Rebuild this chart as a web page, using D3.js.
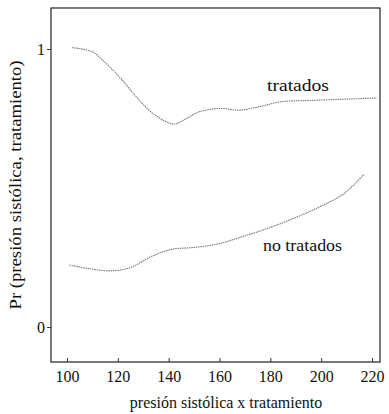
<!DOCTYPE html>
<html>
<head>
<meta charset="utf-8">
<script src="https://cdn.jsdelivr.net/npm/d3@7"></script>
<style>
  html, body { margin: 0; padding: 0; background: #fff; }
  svg { display: block; }
  svg text { font-family: "Times New Roman", "Liberation Serif", "DejaVu Serif", serif; fill: #111; }
</style>
</head>
<body>
<svg id="chart" width="389" height="414"></svg>
<script>
// Presión sistólica (eje x) y probabilidad estimada para cada grupo
const pressure = [102, 110, 114, 121, 125.5, 130, 135, 142, 147, 152, 160, 168, 176, 184, 196, 211, 222];
const treated  = [1.005, 0.99, 0.96, 0.896, 0.847, 0.80, 0.76, 0.73, 0.75, 0.774, 0.786, 0.78, 0.793, 0.81, 0.815, 0.82, 0.824];

const pressureUntreated = [101, 108, 117, 125, 133, 141, 150, 159, 168, 179, 189, 200, 209, 217];
const untreated         = [0.223, 0.211, 0.202, 0.214, 0.253, 0.279, 0.286, 0.298, 0.322, 0.355, 0.39, 0.435, 0.48, 0.55];

const xTicks = [100, 120, 140, 160, 180, 200, 220];
const yTicks = [0, 1];

const svg = d3.select("#chart");
const frame = { left: 51, right: 380, top: 8, bottom: 362 };
const serif = "'Times New Roman', 'Liberation Serif', serif";

const x = d3.scaleLinear().domain([100, 220]).range([67, 372]);
const y = d3.scaleLinear().domain([0, 1]).range([327, 49]);

// Marco del gráfico
svg.append("rect")
  .attr("x", frame.left).attr("y", frame.top)
  .attr("width", frame.right - frame.left).attr("height", frame.bottom - frame.top)
  .attr("fill", "none").attr("stroke", "#222").attr("stroke-width", 1.2);

// Eje x: marcas hacia dentro
const xAxis = d3.axisBottom(x).tickValues(xTicks).tickFormat(d3.format("d"))
  .tickSizeInner(-4).tickSizeOuter(0).tickPadding(9);
const gx = svg.append("g").attr("transform", `translate(0,${frame.bottom})`).call(xAxis);
gx.attr("font-family", serif).attr("font-size", 16);
gx.select(".domain").remove();
gx.selectAll("line").attr("stroke", "#333");
gx.selectAll("text").attr("fill", "#111");

// Eje y: marcas hacia fuera
const yAxis = d3.axisLeft(y).tickValues(yTicks).tickFormat(d3.format("d")).tickSize(4).tickPadding(2);
const gy = svg.append("g").attr("transform", `translate(${frame.left},0)`).call(yAxis);
gy.attr("font-family", serif).attr("font-size", 16);
gy.select(".domain").remove();
gy.selectAll("line").attr("stroke", "#333");
gy.selectAll("text").attr("fill", "#111");

// Curvas suavizadas
const line = d3.line().curve(d3.curveCatmullRom.alpha(0.5));

svg.append("path")
  .datum(pressure.map((p, i) => [x(p), y(treated[i])]))
  .attr("d", line)
  .attr("fill", "none").attr("stroke", "#777").attr("stroke-width", 1.1)
  .attr("stroke-dasharray", "1.5,0.8");

svg.append("path")
  .datum(pressureUntreated.map((p, i) => [x(p), y(untreated[i])]))
  .attr("d", line)
  .attr("fill", "none").attr("stroke", "#777").attr("stroke-width", 1.1)
  .attr("stroke-dasharray", "1.5,0.8");

// Etiquetas de las curvas
svg.append("text").attr("x", 267).attr("y", 91).attr("font-size", 16).attr("font-family", serif)
  .attr("textLength", 62).attr("lengthAdjust", "spacingAndGlyphs").text("tratados");
svg.append("text").attr("x", 263).attr("y", 251).attr("font-size", 16).attr("font-family", serif)
  .attr("textLength", 79).attr("lengthAdjust", "spacingAndGlyphs").text("no tratados");

// Títulos de los ejes
svg.append("text")
  .attr("x", 226).attr("y", 408)
  .attr("text-anchor", "middle").attr("font-size", 16).attr("font-family", serif)
  .text("presión sistólica x tratamiento");

svg.append("text")
  .attr("transform", `translate(21,185) rotate(-90)`)
  .attr("text-anchor", "middle").attr("font-size", 16).attr("font-family", serif)
  .attr("textLength", 249).attr("lengthAdjust", "spacingAndGlyphs")
  .text("Pr (presión sistólica, tratamiento)");
</script>
</body>
</html>
